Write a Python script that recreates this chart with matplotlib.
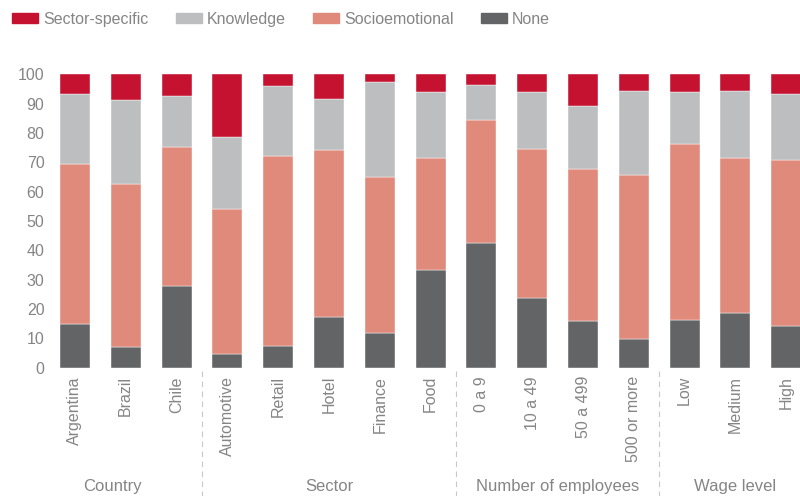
import numpy as np
import matplotlib
matplotlib.use("Agg")
import matplotlib.pyplot as plt
from matplotlib.patches import Patch

# data (percent of firms)
categories = ["Argentina", "Brazil", "Chile",
              "Automotive", "Retail", "Hotel", "Finance", "Food",
              "0 a 9", "10 a 49", "50 a 499", "500 or more",
              "Low", "Medium", "High"]
none = [15.0, 7.2, 27.8, 4.7, 7.4, 17.3, 11.8, 33.3, 42.5, 23.8, 15.9, 9.8, 16.3, 18.6, 14.2]
socioemotional = [54.5, 55.4, 47.3, 49.4, 64.8, 56.9, 53.2, 38.2, 41.9, 50.7, 51.8, 55.9, 59.9, 52.9, 56.6]
knowledge = [23.8, 28.6, 17.5, 24.6, 23.7, 17.4, 32.4, 22.6, 12.0, 19.4, 21.6, 28.6, 17.8, 22.8, 22.5]
sector_specific = [6.7, 8.8, 7.4, 21.3, 4.1, 8.4, 2.6, 5.9, 3.6, 6.1, 10.7, 5.7, 6.0, 5.7, 6.7]

groups = ["Country", "Sector", "Number of employees", "Wage level"]
group_sizes = [3, 5, 4, 3]

FONT = ["Liberation Sans Narrow", "Liberation Sans", "DejaVu Sans"]
TXT = "#858585"
colors = {"None": "#636466", "Socioemotional": "#e08a7c",
          "Knowledge": "#bdbec0", "Sector-specific": "#c41230"}

plt.rcParams["font.family"] = FONT

fig = plt.figure(figsize=(8, 4.96), dpi=100)
ax = fig.add_axes([50 / 800, 0.2587, 750 / 800, 0.5915])

x = np.arange(len(categories))
w = 0.59
bottom = np.zeros(len(categories))
for name, vals in [("None", none), ("Socioemotional", socioemotional),
                   ("Knowledge", knowledge), ("Sector-specific", sector_specific)]:
    ax.bar(x, vals, w, bottom=bottom, color=colors[name],
           edgecolor="white", linewidth=0.3)
    bottom += np.array(vals)

ax.set_xlim(-0.49, 14.27)
ax.set_ylim(0, 100)
ax.set_yticks(range(0, 101, 10))
ax.tick_params(axis="y", length=0, pad=4, labelsize=11.5, labelcolor=TXT)
ax.set_xticks(x)
ax.set_xticklabels(categories, rotation=90, fontsize=11.5, color=TXT)
ax.tick_params(axis="x", length=0, pad=6)
for s in ax.spines.values():
    s.set_visible(False)

# group separators and labels
start = 0
for i, (g, n) in enumerate(zip(groups, group_sizes)):
    end = start + n
    if i < len(groups) - 1:
        ax.plot([end - 0.5, end - 0.5], [-1, -44], color="#c8c8c8", lw=0.8,
                ls=(0, (5, 4)), clip_on=False)
    cx = (start + end - 1) / 2
    if i == 0:
        cx = 0.73
    ax.text(cx, -40.5, g, ha="center", va="center", fontsize=12, color=TXT)
    start = end

handles = [Patch(color=colors[k]) for k in
           ["Sector-specific", "Knowledge", "Socioemotional", "None"]]
leg = fig.legend(handles, ["Sector-specific", "Knowledge", "Socioemotional", "None"],
                 loc="upper left", bbox_to_anchor=(-0.003, 1.005), ncol=4, frameon=False,
                 fontsize=11.5, handlelength=1.65, handleheight=0.55,
                 handletextpad=0.3, columnspacing=1.7)
for t in leg.get_texts():
    t.set_color(TXT)

fig.savefig("out.png", dpi=100)
